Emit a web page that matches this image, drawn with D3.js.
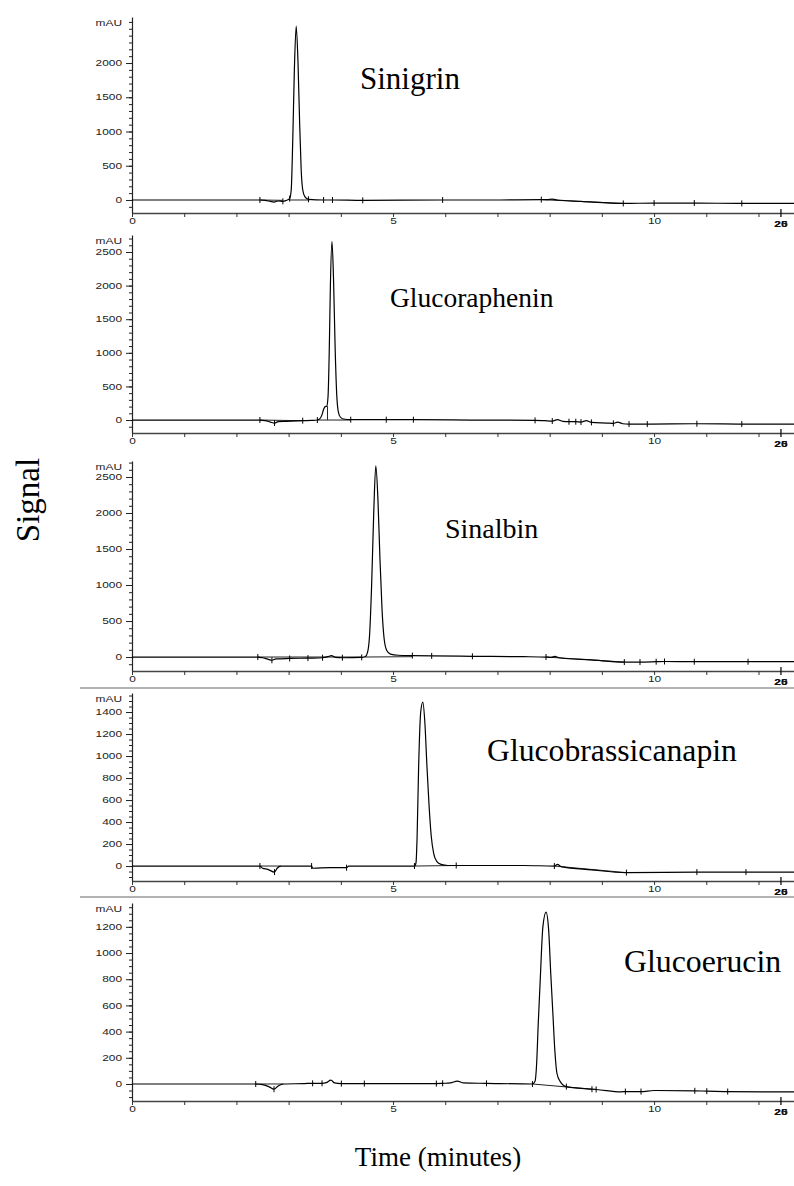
<!DOCTYPE html>
<html>
<head>
<meta charset="utf-8">
<script src="https://cdn.jsdelivr.net/npm/d3@7"></script>
<style>
  body { margin: 0; background: #fff; }
  svg { display: block; }
</style>
</head>
<body>
<div id="chart"></div>
<script>
// compound names, one per panel
const titles = ["Sinigrin", "Glucoraphenin", "Sinalbin", "Glucobrassicanapin", "Glucoerucin"];

// chromatogram traces, [time (min), signal (mAU)]
const sinigrinTrace = [[0,0],[2.45,0],[2.55,-5],[2.65,-20],[2.72,-30],[2.80,-15],[2.89,-20],[2.95,-8],[3.02,20],
  [3.05,150],[3.08,900],[3.11,1900],[3.145,2540],[3.18,2000],[3.21,1150],[3.24,450],[3.27,150],[3.31,50],[3.38,10],
  [3.67,0],[3.84,0],[4.42,-5],[5.95,0],[7.0,0],[7.84,5],[7.95,5],[8.05,12],[8.15,0],[8.6,-20],[9.41,-50],
  [10.0,-45],[10.77,-45],[11.68,-50],[12.43,-50],[12.68,-50]];
const glucorapheninTrace = [[0,0],[2.45,0],[2.55,-10],[2.65,-30],[2.73,-45],[2.80,-25],[2.95,-20],[3.27,-10],[3.45,-5],
  [3.55,0],[3.60,20],[3.64,80],[3.67,160],[3.70,200],[3.73,205],[3.755,350],[3.78,1100],[3.80,2000],[3.83,2660],
  [3.86,2100],[3.89,1100],[3.92,400],[3.95,130],[3.99,45],[4.05,15],[4.19,5],[4.87,5],[5.39,5],[6.5,0],[7.72,-5],
  [7.9,-10],[8.05,-15],[8.15,5],[8.25,-20],[8.37,-25],[8.5,-25],[8.6,-30],[8.7,-10],[8.8,-35],[9.1,-45],[9.22,-50],
  [9.3,-30],[9.4,-55],[9.52,-60],[9.87,-60],[10.82,-55],[11.68,-60],[12.43,-60],[12.68,-60]];
const sinalbinTrace = [[0,0],[2.41,0],[2.50,-10],[2.60,-30],[2.68,-45],[2.76,-25],[3.02,-20],[3.37,-15],[3.65,-10],
  [3.75,5],[3.82,20],[3.90,-5],[4.03,-10],[4.40,-5],[4.47,5],[4.51,60],[4.55,300],[4.59,1000],[4.63,2000],[4.67,2653],
  [4.71,2200],[4.75,1350],[4.79,650],[4.83,250],[4.88,90],[4.95,40],[5.10,25],[5.37,20],[5.74,15],[6.52,10],[7.5,5],
  [7.93,0],[8.03,-5],[8.10,10],[8.18,-10],[8.8,-40],[9.43,-70],[9.73,-70],[10.04,-65],[10.2,-62],[10.77,-65],
  [11.8,-65],[12.43,-65],[12.68,-65]];
const glucobrassicanapinTrace = [[0,0],[2.45,0],[2.50,-20],[2.60,-30],[2.73,-55],[2.78,-20],[2.85,0],[3.44,0],[3.46,-20],
  [3.8,-15],[4.11,-15],[4.15,0],[5.41,0],[5.44,30],[5.46,250],[5.49,900],[5.53,1400],[5.57,1490],[5.61,1300],[5.65,900],
  [5.69,550],[5.73,280],[5.78,110],[5.84,40],[5.92,15],[6.05,5],[6.21,5],[7.5,5],[8.09,0],[8.15,15],[8.22,-5],
  [8.8,-35],[9.47,-60],[10.82,-55],[11.76,-55],[12.43,-55],[12.68,-55]];
const glucoerucinTrace = [[0,0],[2.37,0],[2.50,-5],[2.62,-20],[2.72,-40],[2.80,-15],[2.90,0],[3.3,3],[3.46,5],[3.64,5],
  [3.72,10],[3.81,30],[3.88,8],[4.01,3],[4.45,3],[5.83,3],[5.95,5],[6.10,8],[6.23,22],[6.35,8],[6.79,5],[7.67,0],
  [7.72,20],[7.75,150],[7.78,450],[7.82,800],[7.87,1200],[7.93,1313],[7.98,1180],[8.02,850],[8.06,550],[8.10,250],
  [8.14,80],[8.20,20],[8.32,-20],[8.81,-40],[8.89,-42],[9.37,-60],[9.45,-58],[9.75,-58],[10.0,-50],[10.78,-52],
  [11.01,-55],[11.41,-58],[12.43,-60],[12.68,-60]];
const traces = [sinigrinTrace, glucorapheninTrace, sinalbinTrace, glucobrassicanapinTrace, glucoerucinTrace];

// integration event marks (min)
const markTimes = [
  [2.45, 2.89, 3.02, 3.38, 3.67, 3.84, 4.42, 5.95, 7.84, 9.41, 10.0, 10.77, 11.68],
  [2.45, 2.73, 3.27, 3.55, 4.19, 4.87, 5.39, 7.72, 8.05, 8.37, 8.5, 8.6, 8.8, 9.22, 9.52, 9.87, 10.82, 11.68],
  [2.41, 2.68, 3.02, 3.37, 3.65, 4.03, 4.40, 5.37, 5.74, 6.52, 7.93, 9.43, 9.73, 10.04, 10.2, 10.77, 11.8],
  [2.45, 2.73, 3.44, 4.11, 5.41, 6.21, 8.09, 9.47, 10.82, 11.76],
  [2.37, 2.72, 3.46, 3.64, 4.01, 4.45, 5.83, 5.95, 6.79, 7.67, 8.32, 8.81, 8.89, 9.45, 9.75, 10.78, 11.01, 11.41]
];

// integration baselines, [[t1,v1],[t2,v2]]
const baselines = [
  [[[2.45,0],[2.89,-5]], [[3.02,0],[3.40,0]], [[7.84,5],[9.41,-50]]],
  [[[2.45,0],[3.27,-10]], [[3.55,0],[4.19,0]], [[3.745,0],[3.745,205]]],
  [[[2.41,0],[4.40,0]], [[4.47,0],[5.37,5]], [[7.93,0],[9.43,-70]]],
  [[[2.45,0],[2.85,0]], [[5.41,0],[6.21,5]], [[8.09,0],[9.47,-60]]],
  [[[2.37,0],[2.90,0]], [[7.67,0],[8.81,-40]]]
];

// y axis ticks
const yMajorTicks = [
  [0, 500, 1000, 1500, 2000],
  [0, 500, 1000, 1500, 2000, 2500],
  [0, 500, 1000, 1500, 2000, 2500],
  [0, 200, 400, 600, 800, 1000, 1200, 1400],
  [0, 200, 400, 600, 800, 1000, 1200]
];
const yMinorStep = [100, 100, 100, 50, 50];
const yUnit = "mAU";

// x axis ticks
const xLabelTicks = [0, 5, 10];
const xMinorTicks = [0, 1, 2, 3, 4, 5, 6, 7, 8, 9, 10, 11, 12];
const xEndTime = 12.43;
const xEndLabels = ["20", "25"];

const xTitle = "Time (minutes)";
const yTitle = "Signal";

// ---- layout ----
const width = 794, height = 1186;
const axisLeft = 132, axisRight = 794;
const panels = [
  { top: 17,  bottom: 213,  lo: -190, hi: 2672, tx: 360, ty: 89,  ts: 31 },
  { top: 235, bottom: 433,  lo: -193, hi: 2753, tx: 390, ty: 307, ts: 27.5 },
  { top: 461, bottom: 671,  lo: -194, hi: 2722, tx: 445, ty: 538, ts: 28 },
  { top: 693, bottom: 881,  lo: -136, hi: 1573, tx: 487, ty: 761, ts: 31.7, frame: 688 },
  { top: 903, bottom: 1101, lo: -130, hi: 1382, tx: 624, ty: 972, ts: 31.8, frame: 897 }
];

const svg = d3.select("#chart").append("svg")
  .attr("width", width)
  .attr("height", height);

let x = d3.scaleLinear().domain([0, 12.68]).range([axisLeft, axisRight]);

// stretch small axis text horizontally like the scanned original
function widen(sel) {
  sel.each(function() {
    let t = d3.select(this);
    let x0 = +t.attr("x") || 0;
    t.attr("x", 0).attr("transform", `translate(${x0},0) scale(1.4,1)`);
  });
}

let line = d3.line()
  .x(d => x(d[0]))
  .curve(d3.curveMonotoneX);

function valueAt(trace, t) {
  for (let i = 1; i < trace.length; i++) {
    if (trace[i][0] >= t) {
      let a = trace[i - 1], b = trace[i];
      let f = (t - a[0]) / (b[0] - a[0]);
      return a[1] + f * (b[1] - a[1]);
    }
  }
  return trace[trace.length - 1][1];
}

const tickFont = "Liberation Sans, Arial, sans-serif";

panels.forEach(function(p, i) {
  let g = svg.append("g");
  let y = d3.scaleLinear().domain([p.lo, p.hi]).range([p.bottom, p.top]);

  if (p.frame) {
    g.append("line")
      .attr("x1", 80).attr("x2", width)
      .attr("y1", p.frame).attr("y2", p.frame)
      .attr("stroke", "#666").attr("stroke-width", 1);
  }

  // y minor ticks
  let minor = d3.range(Math.ceil(p.lo / yMinorStep[i]) * yMinorStep[i], p.hi, yMinorStep[i]);
  g.append("g")
    .attr("transform", `translate(${axisLeft},0)`)
    .call(d3.axisLeft(y).tickValues(minor).tickSize(3).tickSizeOuter(0).tickFormat(""))
    .call(a => a.select(".domain").attr("stroke", "#222").attr("stroke-width", 1.2))
    .call(a => a.selectAll(".tick line").attr("stroke", "#222"));

  // y major ticks with labels
  let ya = g.append("g")
    .attr("transform", `translate(${axisLeft},0)`)
    .call(d3.axisLeft(y).tickValues(yMajorTicks[i]).tickSize(6).tickSizeOuter(0).tickPadding(4).tickFormat(d3.format("d")));
  ya.select(".domain").remove();
  ya.selectAll(".tick line").attr("stroke", "#222");
  ya.selectAll("text")
    .attr("font-family", tickFont)
    .attr("font-size", 8.5)
    .attr("fill", "#222")
    .call(widen);

  g.append("text")
    .attr("x", axisLeft - 10)
    .attr("y", p.top + 9)
    .attr("text-anchor", "end")
    .attr("font-family", tickFont)
    .attr("font-size", 8.5)
    .attr("fill", "#222")
    .text(yUnit)
    .call(widen);

  // x axis
  let xa = g.append("g")
    .attr("transform", `translate(0,${p.bottom})`)
    .call(d3.axisBottom(x).tickValues(xMinorTicks).tickSize(4).tickSizeOuter(0)
      .tickFormat(d => xLabelTicks.includes(d) ? d : ""));
  xa.select(".domain").attr("stroke", "#444").attr("stroke-width", 1.3);
  xa.selectAll(".tick line").attr("stroke", "#333");
  xa.selectAll("text")
    .attr("font-family", tickFont)
    .attr("font-size", 8.5)
    .attr("fill", "#222")
    .attr("dy", "0.5em")
    .call(widen);

  g.append("line")
    .attr("x1", x(xEndTime)).attr("x2", x(xEndTime))
    .attr("y1", p.bottom - 4).attr("y2", p.bottom + 4)
    .attr("stroke", "#111").attr("stroke-width", 1.3);
  xEndLabels.forEach(function(lab) {
    g.append("text")
      .attr("x", x(xEndTime))
      .attr("y", p.bottom + 14)
      .attr("text-anchor", "middle")
      .attr("font-family", tickFont)
      .attr("font-size", 8.5)
      .attr("font-weight", "bold")
      .attr("fill", "#111")
      .text(lab)
      .call(widen);
  });

  // integration baselines
  g.selectAll(".base").data(baselines[i]).enter()
    .append("line")
    .attr("x1", d => x(d[0][0])).attr("y1", d => y(d[0][1]))
    .attr("x2", d => x(d[1][0])).attr("y2", d => y(d[1][1]))
    .attr("stroke", "#222").attr("stroke-width", 1);

  // trace
  line.y(d => y(d[1]));
  g.append("path")
    .datum(traces[i])
    .attr("fill", "none")
    .attr("stroke", "#000")
    .attr("stroke-width", 1.2)
    .attr("d", line);

  // event marks
  g.selectAll(".mark").data(markTimes[i]).enter()
    .append("line")
    .attr("x1", d => x(d)).attr("x2", d => x(d))
    .attr("y1", d => y(valueAt(traces[i], d)) - 3)
    .attr("y2", d => y(valueAt(traces[i], d)) + 3)
    .attr("stroke", "#000").attr("stroke-width", 1);

  g.append("text")
    .attr("x", p.tx)
    .attr("y", p.ty)
    .attr("font-family", "Liberation Serif, Times New Roman, serif")
    .attr("font-size", p.ts)
    .attr("fill", "#000")
    .text(titles[i]);
});

svg.append("text")
  .attr("transform", `translate(39, 500) rotate(-90)`)
  .attr("text-anchor", "middle")
  .attr("font-family", "Liberation Serif, Times New Roman, serif")
  .attr("font-size", 33)
  .text(yTitle);

svg.append("text")
  .attr("x", 438)
  .attr("y", 1166)
  .attr("text-anchor", "middle")
  .attr("font-family", "Liberation Serif, Times New Roman, serif")
  .attr("font-size", 27)
  .text(xTitle);
</script>
</body>
</html>
